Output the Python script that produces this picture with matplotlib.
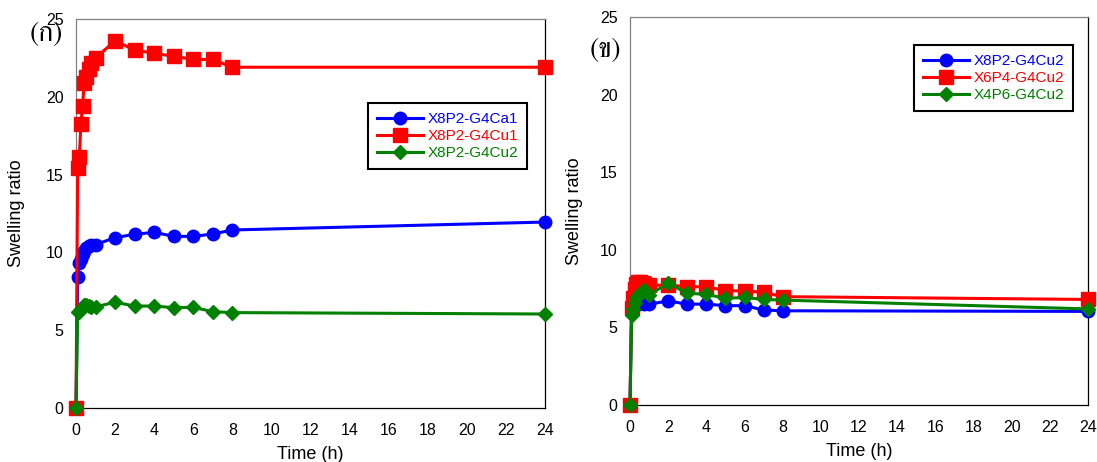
#!/usr/bin/env python
# coding: utf-8

# Swelling ratio vs time, two panels (ก) and (ข)

import matplotlib
matplotlib.use("Agg")
import matplotlib.pyplot as plt
from matplotlib import font_manager
from matplotlib.ft2font import FT2Font

# -------------------- data
time_h = [0, 0.083, 0.167, 0.25, 0.333, 0.417, 0.5, 0.667, 0.75, 1, 2, 3, 4, 5, 6, 7, 8, 24]

# panel (ก)
labels_a = ["X8P2-G4Ca1", "X8P2-G4Cu1", "X8P2-G4Cu2"]
blue_a = [0, 8.44, 9.3, 9.6, 9.9, 10.1, 10.3, 10.4, 10.5, 10.5,
          10.95, 11.16, 11.29, 11.03, 11.03, 11.18, 11.44, 11.95]
red_a = [0, 15.4, 16.1, 18.25, 19.4, 20.9, 21.3, 21.8, 22.2, 22.5,
         23.6, 23.0, 22.8, 22.6, 22.4, 22.4, 21.9, 21.9]
green_a = [0, 6.15, 6.2, 6.35, 6.5, 6.6, 6.6, 6.55, 6.5, 6.5,
           6.8, 6.55, 6.55, 6.45, 6.47, 6.19, 6.13, 6.04]

# panel (ข)
labels_b = ["X8P2-G4Cu2", "X6P4-G4Cu2", "X4P6-G4Cu2"]
blue_b = [0, 6.2, 6.3, 6.4, 6.5, 6.55, 6.6, 6.55, 6.5, 6.5,
          6.7, 6.5, 6.5, 6.4, 6.4, 6.12, 6.07, 6.03]
red_b = [0, 6.27, 6.9, 7.5, 7.8, 7.9, 7.9, 7.85, 7.8, 7.7,
         7.73, 7.62, 7.62, 7.37, 7.35, 7.26, 6.98, 6.8]
green_b = [0, 5.8, 6.2, 6.6, 6.9, 7.1, 7.2, 7.35, 7.4, 7.1,
           7.84, 7.2, 7.13, 6.87, 6.93, 6.8, 6.76, 6.19]

xticks = list(range(0, 25, 2))
yticks = [0, 5, 10, 15, 20, 25]


def find_thai_font():
    # look for an installed font that has Thai letters
    found = []
    for f in font_manager.fontManager.ttflist:
        try:
            cmap = FT2Font(f.fname).get_charmap()
        except Exception:
            continue
        if 0x0E01 in cmap and 0x0E02 in cmap:
            found.append(f.name)
    if not found:
        return None
    for name in found:
        if "Serif" in name:
            return name
    return found[0]


plt.rcParams['font.family'] = ['Liberation Sans', 'DejaVu Sans']

thai_font = find_thai_font()
if thai_font:
    thai_family = [thai_font, 'Liberation Serif', 'DejaVu Serif']
else:
    thai_family = ['Liberation Serif', 'DejaVu Serif']

colors = ['#0000FF', '#FF0000', '#008000']
markers = ['o', 's', 'D']
msizes = [9, 9.5, 7]

fig = plt.figure(figsize=(10.97, 4.62), dpi=100)
ax_a = fig.add_axes([0.0693, 0.1169, 0.4275, 0.842])
ax_b = fig.add_axes([0.5743, 0.1234, 0.4175, 0.8398])

panels = [
    (ax_a, [blue_a, red_a, green_a], labels_a, (527 / 1097, 1 - 103 / 462), -0.108),
    (ax_b, [blue_b, red_b, green_b], labels_b, (1073 / 1097, 1 - 45 / 462), -0.102),
]

for ax, series, labels, leg_pos, ylab_x in panels:
    for idx, vals in enumerate(series):
        ax.plot(time_h, vals, color=colors[idx], marker=markers[idx],
                markersize=msizes[idx], linewidth=2.2, label=labels[idx],
                clip_on=False, zorder=3)
    ax.set_xlim(0, 24)
    ax.set_ylim(0, 25)
    ax.set_xticks(xticks)
    ax.set_yticks(yticks)
    ax.tick_params(axis='both', length=0, labelsize=11.5)
    ax.tick_params(axis='x', pad=11)
    ax.tick_params(axis='y', pad=9)
    ax.set_xlabel('Time (h)', fontsize=13)
    ax.set_ylabel('Swelling ratio', fontsize=13)
    ax.xaxis.set_label_coords(0.5, -0.098)
    ax.yaxis.set_label_coords(ylab_x, 0.5)
    ax.spines['left'].set_color('#808080')
    ax.spines['top'].set_color('#808080')
    ax.spines['bottom'].set_color('black')
    ax.spines['right'].set_color('black')
    for sp in ax.spines.values():
        sp.set_linewidth(0.9)

    leg = ax.legend(loc='upper right', bbox_to_anchor=leg_pos,
                    bbox_transform=fig.transFigure, borderaxespad=0,
                    fontsize=11, handlelength=3.0, labelspacing=0.2,
                    fancybox=False, framealpha=1, edgecolor='black',
                    borderpad=0.6, handletextpad=0.3)
    leg.get_frame().set_linewidth(1.5)
    for txt, c in zip(leg.get_texts(), colors):
        txt.set_color(c)

fig.text(46 / 1097, 1 - 34 / 462, '(ก)', family=thai_family, fontsize=20,
         ha='center', va='center')
fig.text(605 / 1097, 1 - 50 / 462, '(ข)', family=thai_family, fontsize=20,
         ha='center', va='center')

fig.savefig('out.png', dpi=100)
